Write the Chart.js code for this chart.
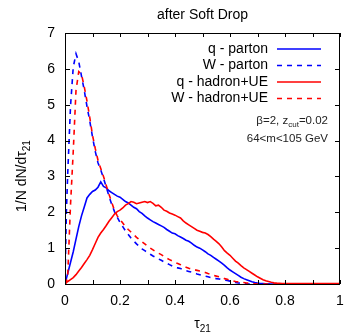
<!DOCTYPE html>
<html>
<head>
<meta charset="utf-8">
<script src="https://cdn.jsdelivr.net/npm/chart.js@4.4.1/dist/chart.umd.min.js"></script>
<style>
  html, body { margin: 0; padding: 0; background: #fff; }
  #wrap { width: 344px; height: 333px; }
</style>
</head>
<body>
<div id="wrap"><canvas id="c"></canvas></div>
<script>
// tau21 bin positions
var tau = [0, 0.005, 0.01, 0.02, 0.03, 0.04, 0.05, 0.06, 0.07, 0.08, 0.09,
  0.10, 0.11, 0.12, 0.13, 0.14, 0.15, 0.16, 0.17, 0.18, 0.19,
  0.20, 0.21, 0.22, 0.23, 0.24, 0.25, 0.26, 0.27, 0.28, 0.29,
  0.30, 0.31, 0.32, 0.33, 0.34, 0.35, 0.36, 0.37, 0.38, 0.39,
  0.40, 0.41, 0.42, 0.43, 0.44, 0.45, 0.46, 0.47, 0.48, 0.49,
  0.50, 0.51, 0.52, 0.53, 0.54, 0.55, 0.56, 0.57, 0.58, 0.59,
  0.60, 0.61, 0.62, 0.63, 0.64, 0.65, 0.66, 0.67, 0.68, 0.69,
  0.70, 0.71, 0.72, 0.73, 0.74, 0.75, 0.76, 0.77, 0.78, 0.79,
  0.80, 0.85, 0.90, 0.95, 1.00];

// q - parton (blue solid)
var qParton = [0, 0.15, 0.3, 0.6, 0.9, 1.25, 1.6, 1.9, 2.15, 2.4, 2.5,
  2.58, 2.62, 2.7, 2.85, 2.72, 2.68, 2.6, 2.55, 2.5, 2.45,
  2.42, 2.36, 2.3, 2.26, 2.2, 2.14, 2.1, 2.02, 1.97, 1.9,
  1.84, 1.79, 1.74, 1.7, 1.66, 1.62, 1.58, 1.52, 1.47, 1.42,
  1.4, 1.35, 1.31, 1.27, 1.22, 1.19, 1.14, 1.08, 1.03, 1.0,
  0.95, 0.9, 0.84, 0.8, 0.74, 0.69, 0.64, 0.58, 0.52, 0.45,
  0.39, 0.34, 0.29, 0.24, 0.19, 0.15, 0.12, 0.09, 0.06, 0.04,
  0.025, 0.015, 0.01, 0.005, 0, 0, 0, 0, 0, 0,
  0, 0, 0, 0, 0];

// W - parton (blue dashed)
var wParton = [0, 2.0, 3.1, 4.95, 6.05, 6.42, 6.2, 5.8, 5.4, 4.95, 4.55,
  4.1, 3.7, 3.38, 3.18, 2.95, 2.7, 2.45, 2.22, 2.02, 1.86,
  1.72, 1.6, 1.48, 1.38, 1.28, 1.2, 1.12, 1.05, 0.98, 0.93,
  0.88, 0.83, 0.78, 0.74, 0.7, 0.66, 0.62, 0.58, 0.54, 0.5,
  0.47, 0.45, 0.43, 0.4, 0.37, 0.35, 0.33, 0.31, 0.28, 0.26,
  0.24, 0.22, 0.2, 0.18, 0.17, 0.15, 0.14, 0.13, 0.11, 0.1,
  0.08, 0.06, 0.04, 0.03, 0.02, 0.01, 0.005, 0, 0, 0,
  0, 0, 0, 0, 0, 0, 0, 0, 0, 0,
  0, 0, 0, 0, 0];

// q - hadron+UE (red solid)
var qHadron = [0, 0.04, 0.07, 0.12, 0.18, 0.26, 0.36, 0.46, 0.57, 0.68, 0.8,
  0.96, 1.13, 1.3, 1.42, 1.52, 1.63, 1.75, 1.85, 1.95, 2.02,
  2.06, 2.12, 2.2, 2.24, 2.3, 2.28, 2.24, 2.26, 2.28, 2.3,
  2.27, 2.3, 2.25, 2.18, 2.2, 2.14, 2.06, 2.03, 1.98, 1.95,
  1.92, 1.88, 1.84, 1.76, 1.7, 1.65, 1.6, 1.55, 1.5, 1.47,
  1.44, 1.42, 1.38, 1.32, 1.25, 1.19, 1.12, 1.03, 0.93, 0.86,
  0.8, 0.72, 0.64, 0.58, 0.51, 0.45, 0.4, 0.35, 0.3, 0.25,
  0.2, 0.16, 0.12, 0.09, 0.07, 0.05, 0.035, 0.025, 0.02, 0.015,
  0.01, 0.01, 0.01, 0.01, 0.01];

// W - hadron+UE (red dashed)
var wHadron = [0, 0.05, 0.25, 2.2, 3.7, 5.4, 5.92, 5.85, 5.5, 5.1, 4.65,
  4.15, 3.78, 3.45, 3.22, 3.0, 2.75, 2.5, 2.28, 2.05, 1.9,
  1.8, 1.7, 1.6, 1.52, 1.45, 1.38, 1.3, 1.24, 1.18, 1.12,
  1.06, 1.0, 0.95, 0.9, 0.86, 0.82, 0.77, 0.72, 0.68, 0.64,
  0.6, 0.57, 0.54, 0.5, 0.47, 0.44, 0.42, 0.4, 0.38, 0.36,
  0.34, 0.32, 0.29, 0.27, 0.24, 0.22, 0.2, 0.18, 0.15, 0.13,
  0.11, 0.09, 0.07, 0.06, 0.05, 0.04, 0.03, 0.02, 0.01, 0.005,
  0, 0, 0, 0, 0, 0, 0, 0, 0, 0,
  0, 0, 0, 0, 0];

var xTicks = [0, 0.1, 0.2, 0.3, 0.4, 0.5, 0.6, 0.7, 0.8, 0.9, 1];
var xTickLabels = ['0', '0.2', '0.4', '0.6', '0.8', '1'];
var yTicks = [0, 1, 2, 3, 4, 5, 6, 7];
var legendNames = ['q - parton', 'W - parton', 'q - hadron+UE', 'W - hadron+UE'];

var FONT = '"Liberation Sans", Arial, Helvetica, sans-serif';

function pts(arr) {
  return tau.map(function (t, i) { return { x: t, y: arr[i] }; });
}

// frame, ticks, labels, legend, text -- all drawn by hand gnuplot style
var gnuplotFrame = {
  id: 'gnuplotFrame',
  afterDatasetsDraw: function (chart) {
    var ctx = chart.ctx, a = chart.chartArea;
    var xs = chart.scales.x, ys = chart.scales.y;
    ctx.save();
    ctx.strokeStyle = '#000';
    ctx.lineWidth = 1;
    ctx.strokeRect(a.left + 0.5, a.top + 0.5, a.right - a.left - 1, a.bottom - a.top);

    ctx.beginPath();
    xTicks.forEach(function (v) {
      var px = Math.round(xs.getPixelForValue(v)) + 0.5;
      ctx.moveTo(px, a.bottom); ctx.lineTo(px, a.bottom - 4);
      ctx.moveTo(px, a.top); ctx.lineTo(px, a.top + 4);
    });
    yTicks.forEach(function (v) {
      var py = Math.round(ys.getPixelForValue(v)) + 0.5;
      ctx.moveTo(a.left, py); ctx.lineTo(a.left + 5, py);
      ctx.moveTo(a.right, py); ctx.lineTo(a.right - 5, py);
    });
    ctx.stroke();

    ctx.fillStyle = '#000';
    ctx.font = '14px ' + FONT;
    ctx.textAlign = 'right';
    ctx.textBaseline = 'middle';
    yTicks.forEach(function (v) {
      ctx.fillText(String(v), a.left - 10, ys.getPixelForValue(v));
    });
    ctx.textAlign = 'center';
    xTickLabels.forEach(function (s) {
      ctx.fillText(s, xs.getPixelForValue(parseFloat(s)), a.bottom + 17);
    });

    // title
    ctx.font = '14px ' + FONT;
    ctx.textBaseline = 'alphabetic';
    ctx.fillText('after Soft Drop', (a.left + a.right) / 2, 19);

    // x axis title
    ctx.textAlign = 'left';
    ctx.font = '14px ' + FONT;
    var w1 = ctx.measureText('\u03c4').width;
    ctx.font = '10px ' + FONT;
    var w2 = ctx.measureText('21').width;
    var sx = (a.left + a.right) / 2 - (w1 + w2) / 2;
    ctx.font = '14px ' + FONT;
    ctx.fillText('\u03c4', sx, 328);
    ctx.font = '10px ' + FONT;
    ctx.fillText('21', sx + w1, 332);

    // y axis title
    ctx.save();
    ctx.translate(26, 212);
    ctx.rotate(-Math.PI / 2);
    ctx.font = '14px ' + FONT;
    var m = '1/N dN/d\u03c4';
    var mw = ctx.measureText(m).width;
    ctx.fillText(m, 0, 0);
    ctx.font = '10px ' + FONT;
    ctx.fillText('21', mw, 4);
    ctx.restore();

    // legend
    var rowsY = [49, 65.5, 82, 98.5];
    chart.data.datasets.forEach(function (ds, i) {
      var ly = rowsY[i];
      ctx.font = '14px ' + FONT;
      ctx.textAlign = 'right';
      ctx.textBaseline = 'middle';
      ctx.fillStyle = '#000';
      ctx.fillText(legendNames[i], 268, ly);
      ctx.strokeStyle = ds.borderColor;
      ctx.lineWidth = ds.borderWidth;
      ctx.setLineDash(ds.borderDash || []);
      ctx.beginPath();
      ctx.moveTo(277, ly); ctx.lineTo(321, ly);
      ctx.stroke();
      ctx.setLineDash([]);
    });

    // cut annotation
    ctx.fillStyle = '#222';
    ctx.textAlign = 'left';
    ctx.textBaseline = 'alphabetic';
    var parts = [['\u03b2=2, z', 11.5, 0], ['cut', 8, 3], ['=0.02', 11.5, 0]];
    var tw = 0;
    parts.forEach(function (p) { ctx.font = p[1] + 'px ' + FONT; tw += ctx.measureText(p[0]).width; });
    var cx = 328 - tw;
    parts.forEach(function (p) {
      ctx.font = p[1] + 'px ' + FONT;
      ctx.fillText(p[0], cx, 124 + p[2]);
      cx += ctx.measureText(p[0]).width;
    });
    ctx.font = '11.5px ' + FONT;
    ctx.textAlign = 'right';
    ctx.fillText('64<m<105 GeV', 328, 142);
    ctx.restore();
  }
};

new Chart(document.getElementById('c'), {
  type: 'line',
  data: {
    datasets: [
      { data: pts(qParton), borderColor: '#0000ff', borderWidth: 1.6, order: 4 },
      { data: pts(wParton), borderColor: '#0000ff', borderWidth: 1.6, borderDash: [5, 5], order: 3 },
      { data: pts(qHadron), borderColor: '#ff0000', borderWidth: 1.6, order: 2 },
      { data: pts(wHadron), borderColor: '#ff0000', borderWidth: 1.6, borderDash: [5, 5], order: 1 }
    ]
  },
  options: {
    responsive: true,
    maintainAspectRatio: false,
    animation: false,
    layout: { padding: { left: 65, right: 4, top: 33, bottom: 49 } },
    elements: { point: { radius: 0 }, line: { tension: 0, fill: false } },
    scales: {
      x: { type: 'linear', min: 0, max: 1, display: false },
      y: { type: 'linear', min: 0, max: 7, display: false }
    },
    plugins: { legend: { display: false }, tooltip: { enabled: false } }
  },
  plugins: [gnuplotFrame]
});
</script>
</body>
</html>
